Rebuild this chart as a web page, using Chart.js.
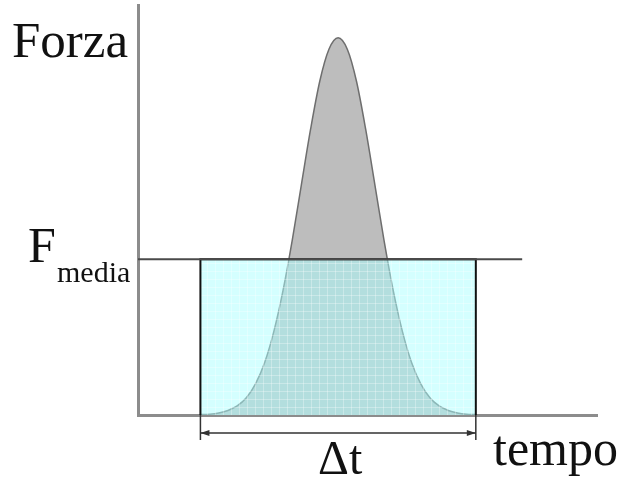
<!DOCTYPE html>
<html lang="it">

<head>
    <meta charset="UTF-8">
    <title>Forza media</title>
    <script src="https://cdn.jsdelivr.net/npm/chart.js"></script>
    <style>
        body {
            margin: 0;
            background: #FFFFFF;
        }

        #impulso {
            display: block;
        }
    </style>
</head>

<body>
    <canvas id="impulso" width="626" height="481"></canvas>

    <script>
        // curva della forza nel tempo (picco dell'urto)
        const tempi = [13.6, 15.6, 17.6, 19.6, 21.6, 23.6, 25.6, 27.6, 29.6, 31.6, 33.6, 35.6, 37.6, 39.6, 41.6,
            43.6, 45.6, 47.6, 49.6, 51.6, 53.6, 55.6, 57.6, 59.6, 61.6, 63.6, 65.6, 67.6, 69.6, 71.6, 73.6];
        const forze = [0.1, 0.2, 0.5, 1.1, 2.2, 4.2, 7.6, 12.8, 20.4, 30.4, 42.6, 56.2, 69.7, 81.4, 89.2,
            92, 89.2, 81.4, 69.7, 56.2, 42.6, 30.4, 20.4, 12.8, 7.6, 4.2, 2.2, 1.1, 0.5, 0.2, 0.1];

        // intervallo dell'urto e forza media
        const inizio = 13.6;
        const fine = 73.6;
        const forzaMedia = 38;
        const fineLinea = 83.7;

        const etichette = { asseY: 'Forza', asseX: 'tempo', media: 'F', pedice: 'media', durata: '\u0394t' };

        const curva = tempi.map((t, i) => ({ x: t, y: forze[i] }));
        const rettangolo = [
            { x: inizio, y: 0 }, { x: inizio, y: forzaMedia },
            { x: fine, y: forzaMedia }, { x: fine, y: 0 }
        ];
        const lineaMedia = [{ x: 0, y: forzaMedia }, { x: fineLinea, y: forzaMedia }];

        // retino a quadretti per il rettangolo
        function retino() {
            const c = document.createElement('canvas');
            c.width = 8;
            c.height = 8;
            const g = c.getContext('2d');
            g.fillStyle = 'rgba(170,255,255,0.5)';
            g.fillRect(0, 0, 8, 8);
            g.fillStyle = 'rgba(255,255,255,0.3)';
            g.fillRect(7, 0, 1, 8);
            g.fillRect(0, 7, 8, 1);
            return g.createPattern(c, 'repeat');
        }

        const testi = {
            id: 'testi',
            afterDraw(chart) {
                const { ctx, scales: { x, y } } = chart;
                const serif = '"Liberation Serif", "Times New Roman", serif';
                ctx.save();
                ctx.fillStyle = '#111';
                ctx.textBaseline = 'alphabetic';

                ctx.font = '51px ' + serif;
                ctx.textAlign = 'left';
                ctx.fillText(etichette.asseY, 12, 57);

                const yMedia = y.getPixelForValue(forzaMedia);
                ctx.font = '50px ' + serif;
                ctx.fillText(etichette.media, 28, yMedia + 3);
                ctx.font = '30px ' + serif;
                ctx.fillText(etichette.pedice, 57, yMedia + 23);

                ctx.font = '50px ' + serif;
                ctx.fillText(etichette.asseX, 493, 465);

                // quota della durata dell'urto
                const x1 = x.getPixelForValue(inizio);
                const x2 = x.getPixelForValue(fine);
                const y0 = y.getPixelForValue(0);
                const yq = y0 + 18;
                ctx.strokeStyle = '#333';
                ctx.lineWidth = 1.5;
                ctx.beginPath();
                ctx.moveTo(x1, y0);
                ctx.lineTo(x1, y0 + 25);
                ctx.moveTo(x2, y0);
                ctx.lineTo(x2, y0 + 25);
                ctx.moveTo(x1, yq);
                ctx.lineTo(x2, yq);
                ctx.stroke();
                ctx.fillStyle = '#333';
                ctx.beginPath();
                ctx.moveTo(x1, yq);
                ctx.lineTo(x1 + 9, yq - 3);
                ctx.lineTo(x1 + 9, yq + 3);
                ctx.closePath();
                ctx.moveTo(x2, yq);
                ctx.lineTo(x2 - 9, yq - 3);
                ctx.lineTo(x2 - 9, yq + 3);
                ctx.closePath();
                ctx.fill();

                ctx.fillStyle = '#111';
                ctx.font = '48px ' + serif;
                ctx.textAlign = 'center';
                ctx.fillText(etichette.durata, (x1 + x2) / 2 + 2, 474);
                ctx.restore();
            }
        };

        const asse = {
            type: 'linear',
            min: 0,
            max: 100,
            grid: { display: false, drawTicks: false, tickLength: 0 },
            ticks: { display: false },
            border: { display: true, color: '#8c8c8c', width: 3 }
        };

        new Chart(document.getElementById('impulso'), {
            type: 'line',
            data: {
                datasets: [{
                    data: lineaMedia,
                    borderColor: '#4a4a4a',
                    borderWidth: 2,
                    pointRadius: 0,
                    fill: false,
                    order: 1
                }, {
                    data: rettangolo,
                    borderColor: '#111',
                    borderWidth: 2,
                    backgroundColor: retino(),
                    pointRadius: 0,
                    tension: 0,
                    fill: 'origin',
                    order: 2
                }, {
                    data: curva,
                    borderColor: '#6e6e6e',
                    borderWidth: 1.5,
                    backgroundColor: '#bdbdbd',
                    pointRadius: 0,
                    cubicInterpolationMode: 'monotone',
                    fill: 'origin',
                    order: 3
                }]
            },
            options: {
                responsive: false,
                animation: false,
                layout: { padding: { left: 138, right: 29, top: 5, bottom: 66 } },
                scales: { x: asse, y: asse },
                plugins: {
                    legend: { display: false },
                    tooltip: { enabled: false }
                }
            },
            plugins: [testi]
        });
    </script>
</body>

</html>
